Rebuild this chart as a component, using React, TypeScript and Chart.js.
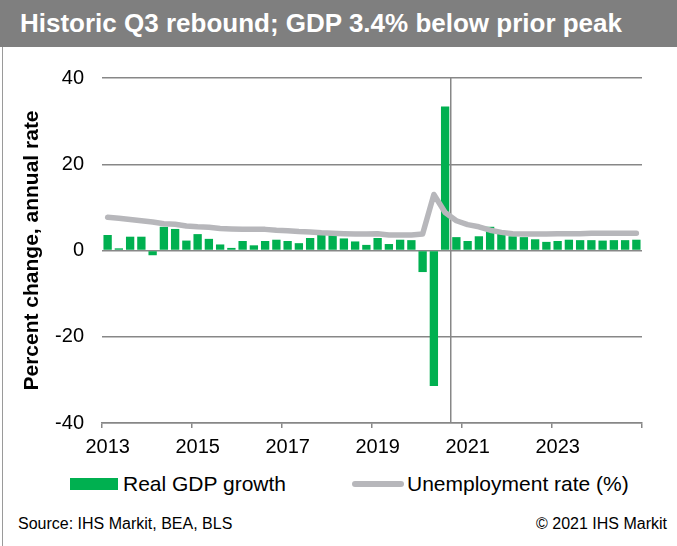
import React, { useEffect, useRef } from "react";
import { Chart, registerables } from "chart.js";

Chart.register(...registerables);

// ---- Data ----
const years: number[] = [2013, 2014, 2015, 2016, 2017, 2018, 2019, 2020, 2021, 2022, 2023, 2024];
const quarterNames: string[] = ["Q1", "Q2", "Q3", "Q4"];
const quarters: string[] = years.flatMap((y) => quarterNames.map((q) => `${y}${q}`));

const gdpGrowth: number[] = [
  3.6, 0.5, 3.2, 3.2,
  -1.1, 5.5, 5.0, 2.3,
  3.8, 2.7, 1.4, 0.6,
  2.2, 1.2, 2.2, 2.5,
  2.2, 1.7, 2.9, 3.6,
  3.6, 2.8, 2.1, 1.3,
  2.9, 1.5, 2.5, 2.4,
  -5.0, -31.4, 33.4, 3.1,
  2.2, 3.3, 5.5, 4.0,
  3.3, 3.1, 2.6, 2.0,
  2.2, 2.5, 2.4, 2.4,
  2.3, 2.4, 2.4, 2.5,
];

const unemploymentRate: number[] = [
  7.7, 7.5, 7.2, 6.9,
  6.6, 6.2, 6.1, 5.7,
  5.5, 5.4, 5.1, 5.0,
  4.9, 4.9, 4.9, 4.7,
  4.6, 4.4, 4.3, 4.1,
  4.0, 3.9, 3.8, 3.8,
  3.9, 3.6, 3.6, 3.6,
  3.8, 13.0, 8.8, 6.9,
  6.0, 5.5, 4.7, 4.2,
  3.9, 3.8, 3.8, 3.8,
  3.9, 3.9, 3.9, 4.0,
  4.0, 4.0, 4.0, 4.0,
];

const yTicks: number[] = [-40, -20, 0, 20, 40];
const xTickYears: number[] = [2013, 2015, 2017, 2019, 2021, 2023];
const markerQuarter = "2020Q3";

const FONT = '"Liberation Sans", Arial, Helvetica, sans-serif';
const GRID = "#878787";
const GREEN = "#00B050";
const LINEGRAY = "#B7B7BB";

const isLabeledQuarter = (i: number) => {
  const q = quarters[i];
  if (!q || !q.endsWith("Q1")) return false;
  return xTickYears.includes(parseInt(q.slice(0, 4), 10));
};

const markerPlugin = {
  id: "markerLine",
  beforeDatasetsDraw(chart: any) {
    const xs = chart.scales.x;
    const i = quarters.indexOf(markerQuarter);
    const px = (xs.getPixelForValue(i) + xs.getPixelForValue(i + 1)) / 2;
    const { top, bottom } = chart.chartArea;
    const ctx = chart.ctx;
    ctx.save();
    ctx.strokeStyle = GRID;
    ctx.lineWidth = 1.5;
    ctx.beginPath();
    ctx.moveTo(px, top);
    ctx.lineTo(px, bottom);
    ctx.stroke();
    ctx.restore();
  },
};

export default function App() {
  const canvasRef = useRef<HTMLCanvasElement | null>(null);

  useEffect(() => {
    if (!canvasRef.current) return;
    const chart = new Chart(canvasRef.current, {
      type: "bar",
      data: {
        labels: quarters,
        datasets: [
          {
            type: "line",
            label: "Unemployment rate (%)",
            data: unemploymentRate,
            borderColor: LINEGRAY,
            backgroundColor: LINEGRAY,
            borderWidth: 5.5,
            pointRadius: 0,
            tension: 0,
            borderCapStyle: "round",
            borderJoinStyle: "round",
            order: 0,
          } as any,
          {
            type: "bar",
            label: "Real GDP growth",
            data: gdpGrowth,
            backgroundColor: GREEN,
            borderWidth: 0,
            barPercentage: 0.74,
            categoryPercentage: 1.0,
            order: 1,
          },
        ],
      },
      options: {
        animation: false,
        responsive: false,
        layout: { padding: { top: 22, right: 35, left: 0, bottom: 0 } },
        plugins: {
          legend: { display: false },
          tooltip: { enabled: false },
        },
        scales: {
          x: {
            type: "category",
            offset: true,
            grid: {
              offset: true,
              drawOnChartArea: false,
              drawTicks: true,
              tickLength: 5,
              lineWidth: 1.5,
              color: (ctx: any) =>
                ctx.index === undefined || isLabeledQuarter(ctx.index) ? GRID : "rgba(0,0,0,0)",
            },
            border: { display: true, color: GRID, width: 1.5 },
            ticks: {
              autoSkip: false,
              maxRotation: 0,
              minRotation: 0,
              padding: 7,
              color: "#000",
              font: { family: FONT, size: 20 },
              callback: (_v: any, i: number) =>
                isLabeledQuarter(i) ? quarters[i].slice(0, 4) : "",
            },
            afterFit: (s: any) => {
              s.height = 47;
            },
          },
          y: {
            type: "linear",
            min: yTicks[0],
            max: yTicks[yTicks.length - 1],
            afterBuildTicks: (s: any) => {
              s.ticks = yTicks.map((v) => ({ value: v }));
            },
            grid: {
              drawTicks: false,
              lineWidth: 1.5,
              color: GRID,
            },
            border: { display: false },
            ticks: {
              padding: 18,
              color: "#000",
              font: { family: FONT, size: 20 },
            },
            title: {
              display: true,
              text: "Percent change, annual rate",
              color: "#000",
              font: { family: FONT, size: 21, weight: "bold" },
              padding: { top: 20, bottom: 0 },
            },
            afterFit: (s: any) => {
              s.width = 102;
            },
          },
        },
      },
      plugins: [markerPlugin],
    });
    return () => chart.destroy();
  }, []);

  return (
    <div
      style={{
        position: "absolute",
        left: 0,
        top: 0,
        width: 677,
        height: 546,
        background: "#fff",
        fontFamily: FONT,
        overflow: "hidden",
      }}
    >
      <div
        style={{
          position: "absolute",
          left: 0,
          top: 0,
          width: 677,
          height: 47,
          background: "#7F7F7F",
          color: "#fff",
          fontWeight: "bold",
          fontSize: 26,
          lineHeight: "47px",
          paddingLeft: 20,
          boxSizing: "border-box",
          whiteSpace: "nowrap",
        }}
      >
        Historic Q3 rebound; GDP 3.4% below prior peak
      </div>
      <div
        style={{
          position: "absolute",
          left: 2,
          top: 47,
          width: 0,
          height: 499,
          borderLeft: "1.5px solid #9A9A9A",
        }}
      />
      <canvas
        ref={canvasRef}
        width={677}
        height={422}
        style={{ position: "absolute", left: 0, top: 48, width: 677, height: 422 }}
      />
      {/* Legend */}
      <div
        style={{
          position: "absolute",
          left: 70,
          top: 478,
          width: 48,
          height: 12,
          background: GREEN,
        }}
      />
      <div
        style={{
          position: "absolute",
          left: 123,
          top: 471,
          fontSize: 21,
          lineHeight: "26px",
          color: "#000",
          whiteSpace: "nowrap",
        }}
      >
        Real GDP growth
      </div>
      <div
        style={{
          position: "absolute",
          left: 352,
          top: 481,
          width: 52,
          height: 6,
          borderRadius: 3,
          background: LINEGRAY,
        }}
      />
      <div
        style={{
          position: "absolute",
          left: 407,
          top: 471,
          fontSize: 21,
          lineHeight: "26px",
          color: "#000",
          whiteSpace: "nowrap",
        }}
      >
        Unemployment rate (%)
      </div>
      {/* Source line */}
      <div
        style={{
          position: "absolute",
          left: 18,
          top: 514,
          fontSize: 16,
          lineHeight: "20px",
          color: "#000",
          whiteSpace: "nowrap",
        }}
      >
        Source: IHS Markit, BEA, BLS
      </div>
      <div
        style={{
          position: "absolute",
          right: 10,
          top: 514,
          fontSize: 16,
          lineHeight: "20px",
          color: "#000",
          whiteSpace: "nowrap",
        }}
      >
        © 2021 IHS Markit
      </div>
    </div>
  );
}
